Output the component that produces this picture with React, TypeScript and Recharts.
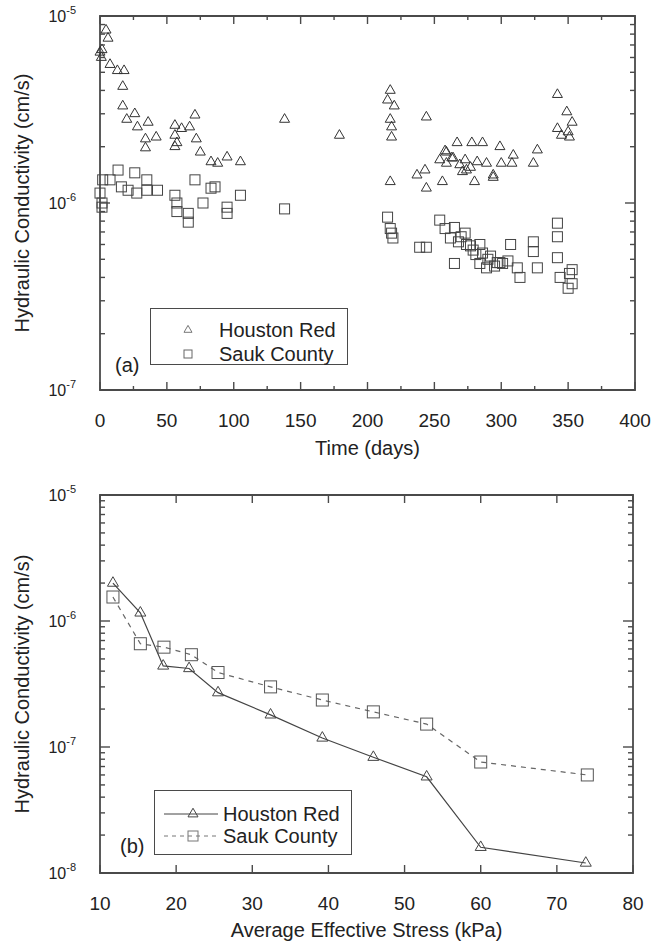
import React from 'react';
import { ScatterChart, Scatter, XAxis, YAxis, Legend, ReferenceArea } from 'recharts';

const FONT = '"Liberation Sans", Arial, Helvetica, sans-serif';
const AXIS = '#4a4a4a';
const INK = '#333';

// (a) hydraulic conductivity vs. time
const houstonDays = [
  0, 1, 1.5, 4.5, 6, 7.5, 13, 18, 17, 17, 20, 26, 28, 36, 34, 34, 42, 56, 56, 56, 57.5, 61, 67, 71, 72,
  75, 83, 88, 95, 105, 138, 179,
  215, 217, 220, 217, 218, 218, 217, 237, 243, 244, 244, 254, 256, 258, 259, 259, 263, 264, 267, 269,
  271, 273, 274, 277, 278, 280, 282, 286, 289, 294, 294, 299, 300, 308, 309, 324, 327,
  342, 342, 345, 349, 350, 351, 353,
];
const houstonK = [
  6.4e-6, 6.0e-6, 6.6e-6, 8.4e-6, 7.6e-6, 5.5e-6, 5.1e-6, 5.1e-6, 4.2e-6, 3.3e-6, 2.8e-6, 3.0e-6, 2.55e-6,
  2.7e-6, 2.2e-6, 1.97e-6, 2.25e-6, 2.6e-6, 2.3e-6, 2.0e-6, 2.1e-6, 2.5e-6, 2.55e-6, 2.95e-6, 2.2e-6,
  1.87e-6, 1.66e-6, 1.63e-6, 1.76e-6, 1.66e-6, 2.8e-6, 2.3e-6,
  3.55e-6, 4.0e-6, 3.3e-6, 2.8e-6, 2.55e-6, 2.25e-6, 1.3e-6, 1.41e-6, 1.5e-6, 2.88e-6, 1.2e-6, 1.7e-6,
  1.3e-6, 1.9e-6, 1.87e-6, 1.63e-6, 1.74e-6, 1.74e-6, 2.1e-6, 1.6e-6, 1.47e-6, 1.7e-6, 1.5e-6, 1.55e-6,
  2.1e-6, 1.3e-6, 1.66e-6, 2.1e-6, 1.63e-6, 1.41e-6, 1.37e-6, 2.0e-6, 1.63e-6, 1.63e-6, 1.8e-6, 1.63e-6,
  1.92e-6, 3.8e-6, 2.5e-6, 2.3e-6, 3.07e-6, 2.4e-6, 2.25e-6, 2.7e-6,
];
const saukDays = [
  0, 1.5, 1.5, 2, 7.5, 13.5, 16, 21, 26, 27.5, 35, 35, 43, 56, 57.5, 57.5, 66, 66, 71, 77, 83, 86, 95, 95,
  105, 138,
  215, 217, 218, 219, 239, 244, 254, 258, 262, 265, 265, 268, 270, 273, 274, 277, 279, 281, 284, 284, 286,
  289, 290, 292, 295, 297, 299, 301, 305, 307, 312, 314, 324, 324, 327, 342, 342, 342, 344, 350, 351, 353,
  353,
];
const saukK = [
  1.13e-6, 1.0e-6, 0.95e-6, 1.33e-6, 1.33e-6, 1.5e-6, 1.22e-6, 1.17e-6, 1.45e-6, 1.13e-6, 1.33e-6, 1.17e-6,
  1.17e-6, 1.1e-6, 1.0e-6, 0.9e-6, 0.88e-6, 0.79e-6, 1.33e-6, 1.0e-6, 1.2e-6, 1.22e-6, 0.95e-6, 0.88e-6,
  1.1e-6, 0.93e-6,
  8.4e-7, 7.3e-7, 6.9e-7, 6.5e-7, 5.8e-7, 5.8e-7, 8.1e-7, 7.3e-7, 6.5e-7, 7.4e-7, 4.75e-7, 6.2e-7, 6.6e-7,
  6.9e-7, 6.0e-7, 5.9e-7, 5.6e-7, 5.3e-7, 6.0e-7, 4.75e-7, 5.4e-7, 4.5e-7, 5.0e-7, 5.2e-7, 4.6e-7, 4.8e-7,
  4.8e-7, 4.75e-7, 4.9e-7, 6.0e-7, 4.5e-7, 4.0e-7, 6.2e-7, 5.5e-7, 4.5e-7, 7.8e-7, 6.6e-7, 5.1e-7, 4.0e-7,
  3.5e-7, 4.2e-7, 4.4e-7, 3.7e-7,
];

// (b) hydraulic conductivity vs. average effective stress
const houstonStress = [11.7, 15.3, 18.3, 21.7, 25.5, 32.4, 39.2, 45.9, 52.9, 60, 73.8];
const houstonStressK = [2.0e-6, 1.16e-6, 4.4e-7, 4.2e-7, 2.7e-7, 1.8e-7, 1.18e-7, 8.3e-8, 5.8e-8, 1.6e-8, 1.2e-8];
const saukStress = [11.7, 15.3, 18.4, 22, 25.5, 32.4, 39.2, 45.9, 52.9, 60, 74];
const saukStressK = [1.55e-6, 6.6e-7, 6.2e-7, 5.4e-7, 3.9e-7, 3.0e-7, 2.36e-7, 1.9e-7, 1.52e-7, 7.6e-8, 6.0e-8];

const timeTicks = [0, 25, 50, 75, 100, 125, 150, 175, 200, 225, 250, 275, 300, 325, 350, 375, 400];
const stressTicks = [10, 20, 30, 40, 50, 60, 70, 80];
const topDecades = [-7, -6, -5];
const bottomDecades = [-8, -7, -6, -5];

// plot box sizes, used to mirror the ticks onto the top and right edges
const TOP_PLOT = { w: 535, h: 374 };
const BOTTOM_PLOT = { w: 533, h: 378 };

const toPoints = (xs: number[], ks: number[]) => xs.map((x, i) => ({ x, k: ks[i] }));

const logTicks = (decades: number[]) => {
  const out: number[] = [];
  decades.forEach((d, i) => {
    const base = Math.pow(10, d);
    out.push(base);
    if (i < decades.length - 1) for (let m = 2; m <= 9; m++) out.push(m * base);
  });
  return out;
};

const isDecade = (v: number) => {
  const e = Math.round(Math.log10(v));
  return Math.abs(v / Math.pow(10, e) - 1) < 1e-6;
};

// markers
const triangle = (size: number, stroke = INK) => (props: any) => {
  const { cx, cy } = props;
  if (cx == null || cy == null) return <g />;
  const h = size * 0.866;
  const pts = `${cx},${cy - (h * 2) / 3} ${cx - size / 2},${cy + h / 3} ${cx + size / 2},${cy + h / 3}`;
  return <polygon points={pts} fill="none" stroke={stroke} strokeWidth={1} />;
};

const square = (size: number, stroke = INK) => (props: any) => {
  const { cx, cy } = props;
  if (cx == null || cy == null) return <g />;
  return (
    <rect x={cx - size / 2} y={cy - size / 2} width={size} height={size} fill="none" stroke={stroke} strokeWidth={1} />
  );
};

// inward ticks on bottom + top edges, label on the bottom only
const makeXTick = (plotH: number, isMajor: (v: number) => boolean) => (props: any) => {
  const { x, y, payload } = props;
  const major = isMajor(payload.value);
  const len = major ? 8 : 4;
  const top = y - plotH;
  return (
    <g>
      <line x1={x} x2={x} y1={y} y2={y - len} stroke={AXIS} strokeWidth={1.4} />
      <line x1={x} x2={x} y1={top} y2={top + len} stroke={AXIS} strokeWidth={1.4} />
      {major && (
        <text x={x} y={y + 37} textAnchor="middle" fontSize={19} fill="#222" fontFamily={FONT}>
          {payload.value}
        </text>
      )}
    </g>
  );
};

// inward ticks on left + right edges, 10^n label on the left
const makeYTick = (plotW: number) => (props: any) => {
  const { x, y, payload } = props;
  const v = payload.value;
  const major = isDecade(v);
  const len = major ? 10 : 5;
  const right = x + plotW;
  return (
    <g>
      <line x1={x} x2={x + len} y1={y} y2={y} stroke={AXIS} strokeWidth={1.4} />
      <line x1={right} x2={right - len} y1={y} y2={y} stroke={AXIS} strokeWidth={1.4} />
      {major && (
        <text x={x - 24} y={y + 6} textAnchor="end" fill="#222" fontFamily={FONT}>
          <tspan fontSize={16}>10</tspan>
          <tspan fontSize={11} dy={-8}>
            {Math.round(Math.log10(v))}
          </tspan>
        </text>
      )}
    </g>
  );
};

const yTitle = (props: any) => {
  const vb = props.viewBox;
  const cx = vb.x - 18;
  const cy = vb.y + vb.height / 2;
  return (
    <text
      x={cx}
      y={cy}
      transform={`rotate(-90, ${cx}, ${cy})`}
      textAnchor="middle"
      dominantBaseline="central"
      fontSize={20}
      fill="#222"
      fontFamily={FONT}
    >
      Hydraulic Conductivity (cm/s)
    </text>
  );
};

const xTitle = (text: string, drop: number) => (props: any) => {
  const vb = props.viewBox;
  return (
    <text x={vb.x + vb.width / 2} y={vb.y + drop} textAnchor="middle" fontSize={20} fill="#222" fontFamily={FONT}>
      {text}
    </text>
  );
};

const legendRow = (symbol: React.ReactNode, label: string, height: number) => (
  <div style={{ position: 'relative', height }}>
    <svg width={64} height={height} style={{ position: 'absolute', left: 0, top: 0 }}>
      {symbol}
    </svg>
    <span style={{ position: 'absolute', left: 68, top: 0, lineHeight: `${height}px` }}>{label}</span>
  </div>
);

const TimeLegend = () => (
  <div
    style={{
      width: 198,
      height: 57,
      boxSizing: 'border-box',
      border: `1px solid ${AXIS}`,
      background: '#fff',
      paddingTop: 9,
      fontFamily: FONT,
      fontSize: 20,
      color: '#222',
    }}
  >
    {legendRow(triangle(8, '#777')({ cx: 37, cy: 12 }), 'Houston Red', 24)}
    {legendRow(square(8, '#666')({ cx: 37, cy: 12 }), 'Sauk County', 24)}
  </div>
);

const StressLegend = () => (
  <div
    style={{
      width: 198,
      height: 65,
      boxSizing: 'border-box',
      border: `1px solid ${AXIS}`,
      background: '#fff',
      paddingTop: 12,
      fontFamily: FONT,
      fontSize: 20,
      color: '#222',
    }}
  >
    {legendRow(
      <g>
        <line x1={9} x2={63} y1={11} y2={11} stroke="#444" strokeWidth={1} />
        {triangle(10, '#444')({ cx: 38, cy: 11 })}
      </g>,
      'Houston Red',
      22
    )}
    {legendRow(
      <g>
        <line x1={9} x2={63} y1={11} y2={11} stroke="#777" strokeWidth={1} strokeDasharray="4 4" />
        {square(10, '#777')({ cx: 38, cy: 11 })}
      </g>,
      'Sauk County',
      22
    )}
  </div>
);

const panelTag = (text: string, left: number, top: number) => (
  <span
    style={{
      position: 'absolute',
      left,
      top,
      fontFamily: FONT,
      fontSize: 20,
      lineHeight: '22px',
      color: '#222',
    }}
  >
    {text}
  </span>
);

export default function App() {
  const topY = logTicks(topDecades);
  const bottomY = logTicks(bottomDecades);
  const timeMajor = (v: number) => v % 50 === 0;

  return (
    <div style={{ position: 'absolute', left: 0, top: 0, width: 652, height: 945, background: '#fff' }}>
      <div style={{ position: 'absolute', left: 0, top: 0 }}>
        <ScatterChart width={652} height={470} margin={{ top: 16, right: 17, bottom: 10, left: 40 }}>
          <XAxis
            dataKey="x"
            type="number"
            domain={[0, 400]}
            ticks={timeTicks}
            interval={0}
            height={70}
            tickSize={0}
            tickMargin={0}
            tickLine={false}
            axisLine={false}
            tick={makeXTick(TOP_PLOT.h, timeMajor)}
            label={{ content: xTitle('Time (days)', 65) }}
          />
          <YAxis
            dataKey="k"
            type="number"
            scale="log"
            domain={[1e-7, 1e-5]}
            allowDataOverflow
            ticks={topY}
            interval={0}
            width={60}
            tickSize={0}
            tickMargin={0}
            tickLine={false}
            axisLine={false}
            tick={makeYTick(TOP_PLOT.w)}
            label={{ content: yTitle }}
          />
          <ReferenceArea
            x1={0}
            x2={400}
            y1={1e-7}
            y2={1e-5}
            fill="none"
            fillOpacity={0}
            stroke={AXIS}
            strokeWidth={1.8}
            ifOverflow="visible"
          />
          <Scatter
            name="Houston Red"
            data={toPoints(houstonDays, houstonK)}
            shape={triangle(10)}
            isAnimationActive={false}
          />
          <Scatter
            name="Sauk County"
            data={toPoints(saukDays, saukK)}
            shape={square(10, '#444')}
            isAnimationActive={false}
          />
          <Legend
            layout="vertical"
            align="center"
            verticalAlign="middle"
            content={<TimeLegend />}
            wrapperStyle={{ left: 150, top: 308, width: 198 }}
          />
        </ScatterChart>
        {panelTag('(a)', 115, 354)}
      </div>

      <div style={{ position: 'absolute', left: 0, top: 470 }}>
        <ScatterChart width={652} height={475} margin={{ top: 25, right: 19, bottom: 10, left: 40 }}>
          <XAxis
            dataKey="x"
            type="number"
            domain={[10, 80]}
            ticks={stressTicks}
            interval={0}
            height={62}
            tickSize={0}
            tickMargin={0}
            tickLine={false}
            axisLine={false}
            tick={makeXTick(BOTTOM_PLOT.h, () => true)}
            label={{ content: xTitle('Average Effective Stress (kPa)', 64) }}
          />
          <YAxis
            dataKey="k"
            type="number"
            scale="log"
            domain={[1e-8, 1e-5]}
            allowDataOverflow
            ticks={bottomY}
            interval={0}
            width={60}
            tickSize={0}
            tickMargin={0}
            tickLine={false}
            axisLine={false}
            tick={makeYTick(BOTTOM_PLOT.w)}
            label={{ content: yTitle }}
          />
          <ReferenceArea
            x1={10}
            x2={80}
            y1={1e-8}
            y2={1e-5}
            fill="none"
            fillOpacity={0}
            stroke={AXIS}
            strokeWidth={1.8}
            ifOverflow="visible"
          />
          <Scatter
            name="Houston Red"
            data={toPoints(houstonStress, houstonStressK)}
            shape={triangle(11, '#444')}
            line={{ stroke: '#444', strokeWidth: 1.2 }}
            lineType="joint"
            isAnimationActive={false}
          />
          <Scatter
            name="Sauk County"
            data={toPoints(saukStress, saukStressK)}
            shape={square(12, '#555')}
            line={{ stroke: '#666', strokeWidth: 1.2, strokeDasharray: '5 5' }}
            lineType="joint"
            isAnimationActive={false}
          />
          <Legend
            layout="vertical"
            align="center"
            verticalAlign="middle"
            content={<StressLegend />}
            wrapperStyle={{ left: 154, top: 320, width: 198 }}
          />
        </ScatterChart>
        {panelTag('(b)', 120, 365)}
      </div>
    </div>
  );
}
